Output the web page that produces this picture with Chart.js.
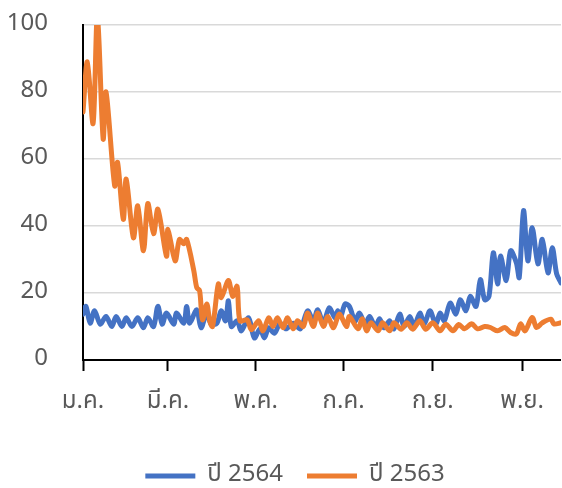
<!DOCTYPE html>
<html>
<head>
<meta charset="utf-8">
<script src="https://cdn.jsdelivr.net/npm/chart.js@4.4.0/dist/chart.umd.min.js"></script>
<style>
  html, body { margin: 0; padding: 0; background: #fff; }
  #wrap { width: 562px; height: 488px; position: relative; }
</style>
</head>
<body>
<div id="wrap"><canvas id="chart"></canvas></div>
<script>
// month ticks (day of year) and their labels
const monthDays = [0, 59, 120, 181, 243, 305]
const monthLabels = ['ม.ค.', 'มี.ค.', 'พ.ค.', 'ก.ค.', 'ก.ย.', 'พ.ย.']

// ปี 2564 (blue)
const days2564 = [0, 2, 5, 8, 12, 16, 20, 23, 27, 30, 34, 38, 42, 45, 49, 52, 55, 58, 63, 65, 70, 72, 74, 79, 82, 86, 89, 93, 96, 99, 101, 103, 107, 110, 115, 119, 123, 126, 129, 133, 137, 141, 146, 151, 156, 160, 163, 167, 171, 175, 177, 179, 182, 185, 189, 192, 196, 199, 203, 206, 209, 213, 216, 220, 223, 227, 230, 234, 237, 241, 245, 248, 251, 255, 259, 262, 266, 269, 273, 276, 279, 282, 285, 288, 290, 294, 297, 301, 303, 306, 309, 312, 316, 319, 323, 326, 329, 332]
const vals2564 = [13.7, 16, 11, 14.7, 10.7, 13, 10, 13, 10, 12.6, 10, 12.6, 9.6, 12.6, 10, 16, 10.7, 14, 10.7, 14, 11, 16, 11, 15, 9.6, 14, 10.7, 11, 14.7, 11.7, 17.7, 10, 11.7, 8.7, 12.6, 6.6, 9.3, 6.6, 9.6, 8, 11, 9.3, 11, 9.3, 14.7, 11.7, 15, 11, 15.6, 12.6, 14.7, 13, 16.7, 16, 11.7, 14, 10.7, 13, 10, 12.3, 9.6, 11.7, 9.3, 13.7, 10, 13, 10, 14, 10.7, 14.7, 10.7, 14, 11.7, 17, 13.7, 18, 14.7, 19, 16, 24, 18, 19, 32, 22.7, 31, 23.7, 32.6, 29, 24.6, 44.6, 29.6, 39.5, 28.7, 36, 26, 33.5, 25.7, 23]

// ปี 2563 (orange)
const days2563 = [0, 3, 7, 10, 14, 16, 22, 24, 28, 30, 35, 38, 42, 45, 49, 52, 58, 59, 64, 67, 70, 72, 77, 79, 81, 83, 86, 88, 90, 94, 96, 101, 104, 107, 109, 114, 117, 122, 125, 129, 132, 135, 139, 142, 146, 149, 153, 156, 160, 163, 167, 170, 174, 178, 183, 185, 191, 194, 197, 200, 205, 208, 213, 216, 221, 225, 229, 234, 238, 243, 248, 252, 257, 261, 265, 270, 274, 279, 283, 288, 293, 297, 301, 304, 307, 312, 315, 319, 325, 327, 332]
const vals2563 = [74, 89, 70.6, 103, 66, 80, 52, 59, 42, 54, 36.5, 46, 32.6, 46.7, 37.7, 45, 31, 39, 29.6, 36, 34.7, 36, 26.6, 21.6, 20.7, 12, 16.7, 11.7, 10, 22.7, 18.6, 23.7, 19, 22, 11.7, 12, 9, 11.7, 8.7, 12.6, 10, 12.6, 9.6, 12.6, 9.3, 11.7, 10, 14, 10, 14, 10, 13, 9.6, 13.7, 10, 13, 9.3, 12.3, 8.7, 11.1, 8.7, 11.1, 8.7, 11.1, 9.2, 11.1, 9.2, 11.7, 9.2, 11.1, 8.7, 10.7, 8.7, 10.6, 9.3, 10.8, 9.3, 10, 9.7, 8.7, 9.7, 8.2, 7.8, 10.8, 8.7, 12.7, 9.7, 11.1, 12.2, 10.8, 11.1]

const FONT = "'Noto Sans Thai', 'Leelawadee UI', 'Noto Sans', 'DejaVu Sans', sans-serif"
const GREY = '#595959'

function toPoints(days, vals){
    return days.map((d, i) => ({x: d, y: vals[i]}))
}

// the original legend sits a bit right of the canvas centre
const legendShift = {
    id: 'legendShift',
    afterLayout(chart){
        if (chart.legend){
            chart.legend.left += 14
            chart.legend.right += 14
        }
    }
}

const config = {
    type: 'line',
    data: {
        datasets: [{
            label: 'ปี 2564',
            data: toPoints(days2564, vals2564),
            borderColor: '#4472C4',
            backgroundColor: '#4472C4',
            borderWidth: 5,
            borderCapStyle: 'round',
            borderJoinStyle: 'round',
            pointRadius: 0,
            tension: 0.3,
            order: 1
        }, {
            label: 'ปี 2563',
            data: toPoints(days2563, vals2563),
            borderColor: '#ED7D31',
            backgroundColor: '#ED7D31',
            borderWidth: 5,
            borderCapStyle: 'round',
            borderJoinStyle: 'round',
            pointRadius: 0,
            tension: 0.3,
            order: 0
        }]
    },
    options: {
        responsive: true,
        maintainAspectRatio: false,
        animation: false,
        layout: {
            padding: {top: 25, right: 0, bottom: -10, left: 0}
        },
        plugins: {
            legend: {
                position: 'bottom',
                labels: {
                    usePointStyle: true,
                    pointStyle: 'line',
                    pointStyleWidth: 50,
                    color: GREY,
                    font: {family: FONT, size: 24},
                    padding: 24,
                    sort: (a, b) => a.datasetIndex - b.datasetIndex
                }
            },
            tooltip: {enabled: false}
        },
        scales: {
            x: {
                type: 'linear',
                min: 0,
                max: 332,
                afterBuildTicks: (scale) => {
                    scale.ticks = monthDays.map(v => ({value: v}))
                },
                afterFit: (scale) => { scale.height = 80 },
                ticks: {
                    autoSkip: false,
                    maxRotation: 0,
                    color: GREY,
                    font: {family: FONT, size: 24},
                    padding: 18,
                    callback: (value) => monthLabels[monthDays.indexOf(value)]
                },
                grid: {
                    drawOnChartArea: false,
                    drawTicks: true,
                    tickLength: 11,
                    tickWidth: 2,
                    tickColor: '#000'
                },
                border: {color: '#000', width: 2}
            },
            y: {
                min: 0,
                max: 100,
                afterFit: (scale) => { scale.width = 83 },
                ticks: {
                    stepSize: 20,
                    color: GREY,
                    font: {family: FONT, size: 24},
                    padding: 0
                },
                grid: {
                    color: '#d9d9d9',
                    lineWidth: 1.5,
                    drawTicks: true,
                    tickLength: 35,
                    tickColor: 'rgba(0,0,0,0)'
                },
                border: {color: '#000', width: 2}
            }
        }
    },
    plugins: [legendShift]
}

new Chart(document.getElementById('chart'), config)
</script>
</body>
</html>
